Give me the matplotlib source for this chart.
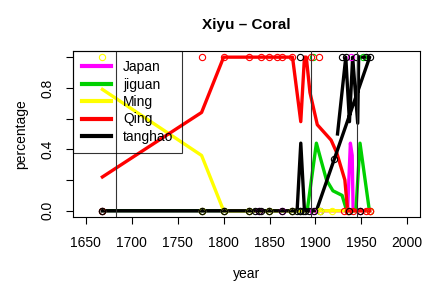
import matplotlib
matplotlib.use("Agg")
import matplotlib.pyplot as plt
from matplotlib.lines import Line2D

plt.rcParams['font.family'] = ['Liberation Sans', 'DejaVu Sans']

# series names and colours (legend order)
names = ['Japan', 'jiguan', 'Ming', 'Qing', 'tanghao']
colors = ['#FF00FF', '#00D000', '#FFFF00', '#FF0000', '#000000']

# smoothed lines (drawing order)
japan_x = [1668, 1776, 1800, 1849, 1900, 1935, 1938, 1940, 1941, 1959]
japan_y = [0, 0, 0, 0, 0, 0, 0.44, 0.36, 0, 0]
jiguan_x = [1668, 1776, 1800, 1849, 1891, 1901, 1906, 1912, 1919, 1929, 1934, 1944, 1948.5, 1958.7]
jiguan_y = [0, 0, 0, 0, 0, 0.44, 0.33, 0.2, 0.13, 0.1, 0, 0, 0.44, 0]
ming_x = [1668, 1776, 1800, 1849, 1900, 1935, 1959]
ming_y = [0.79, 0.36, 0, 0, 0, 0, 0]
qing_x = [1668, 1776, 1800, 1828, 1849, 1875, 1884, 1888, 1890, 1894, 1902, 1917, 1923, 1932, 1935, 1959]
qing_y = [0.22, 0.64, 1, 1, 1, 1, 0.58, 1, 1, 0.77, 0.56, 0.46, 0.38, 0.2, 0, 0]
tang_x = [1668, 1776, 1800, 1849, 1880, 1884, 1888, 1901, 1959, 1947, 1946, 1940.5, 1937, 1933, 1924]
tang_y = [0, 0, 0, 0, 0, 0.44, 0, 0, 1.0, 1.0, 0.57, 1.0, 0.58, 1.0, 0.5]

# raw points (circles)
japan_px = [1668, 1776, 1800, 1828, 1838, 1849, 1864, 1874, 1883, 1897, 1905, 1935, 1939, 1948, 1959]
japan_py = [0, 0, 0, 0, 0, 0, 0, 0, 0, 0, 0, 0, 1, 0, 0]
jiguan_px = [1668, 1776, 1800, 1828, 1849, 1874, 1883, 1897, 1905, 1935, 1952, 1959]
jiguan_py = [0, 0, 0, 0, 0, 0, 0, 1, 0, 0, 1, 0]
ming_px = [1668, 1776, 1800, 1828, 1849, 1874, 1905, 1918, 1935, 1959]
ming_py = [1, 0, 0, 0, 0, 0, 0, 0, 0, 0]
qing_px = [1668, 1776, 1800, 1828, 1841, 1849, 1858, 1864, 1874, 1895, 1904, 1931, 1935, 1941, 1948, 1955, 1959]
qing_py = [0, 1, 1, 1, 1, 1, 1, 1, 1, 1, 1, 0, 0, 0, 0, 0, 0]
tang_px = [1668, 1776, 1800, 1828, 1834, 1838, 1841, 1849, 1864, 1874, 1880, 1883, 1883, 1886, 1889, 1893,
           1898, 1920, 1929, 1933, 1937, 1944, 1948, 1955, 1959]
tang_py = [0, 0, 0, 0, 0, 0, 0, 0, 0, 0, 0, 0, 1, 0, 0, 0,
           0, 0.34, 1, 1, 0, 1, 0, 1, 1]

# period markers
periods = [1683, 1895, 1945]

lines = [(japan_x, japan_y), (jiguan_x, jiguan_y), (ming_x, ming_y), (qing_x, qing_y), (tang_x, tang_y)]
points = [(japan_px, japan_py), (jiguan_px, jiguan_py), (ming_px, ming_py), (qing_px, qing_py), (tang_px, tang_py)]

fig = plt.figure(figsize=(4.27, 2.85), dpi=100)
ax = fig.add_axes([0.171, 0.239, 0.813, 0.582])

for (lx, ly), c in zip(lines, colors):
    ax.plot(lx, ly, color=c, lw=2.4, solid_joinstyle='round', zorder=2)
for (px, py), c in zip(points, colors):
    ax.plot(px, py, 'o', mfc='none', mec=c, ms=4.5, mew=0.8, zorder=3)

for p in periods:
    ax.axvline(p, color='#333333', lw=0.8, zorder=4)

ax.set_xlim(1636, 2014)
ax.set_ylim(-0.04, 1.04)
ax.set_xticks([1650, 1700, 1750, 1800, 1850, 1900, 1950, 2000])
ax.set_yticks([0, 0.2, 0.4, 0.6, 0.8, 1.0])
ax.set_yticklabels(['0.0', '', '0.4', '', '0.8', ''], rotation=90, va='center')
ax.tick_params(direction='out', length=5, width=0.8, labelsize=10, pad=9)
ax.tick_params(axis='y', pad=8)
for s in ax.spines.values():
    s.set_linewidth(0.8)

ax.set_title('Xiyu \u2013 Coral', fontsize=11, fontweight='bold', pad=16)
ax.set_xlabel('year', fontsize=10, labelpad=12)
ax.set_ylabel('percentage', fontsize=10, labelpad=9)

handles = [Line2D([], [], color=c, lw=3) for c in colors]
leg = ax.legend(handles, names, loc='upper left', borderaxespad=0, fontsize=10,
                frameon=True, fancybox=False, handlelength=2.1, handletextpad=0.85,
                labelspacing=0.25, borderpad=0.65)
leg.get_frame().set_edgecolor('black')
leg.get_frame().set_linewidth(0.8)
leg.get_frame().set_facecolor('none')

fig.savefig('out.png', dpi=100)
